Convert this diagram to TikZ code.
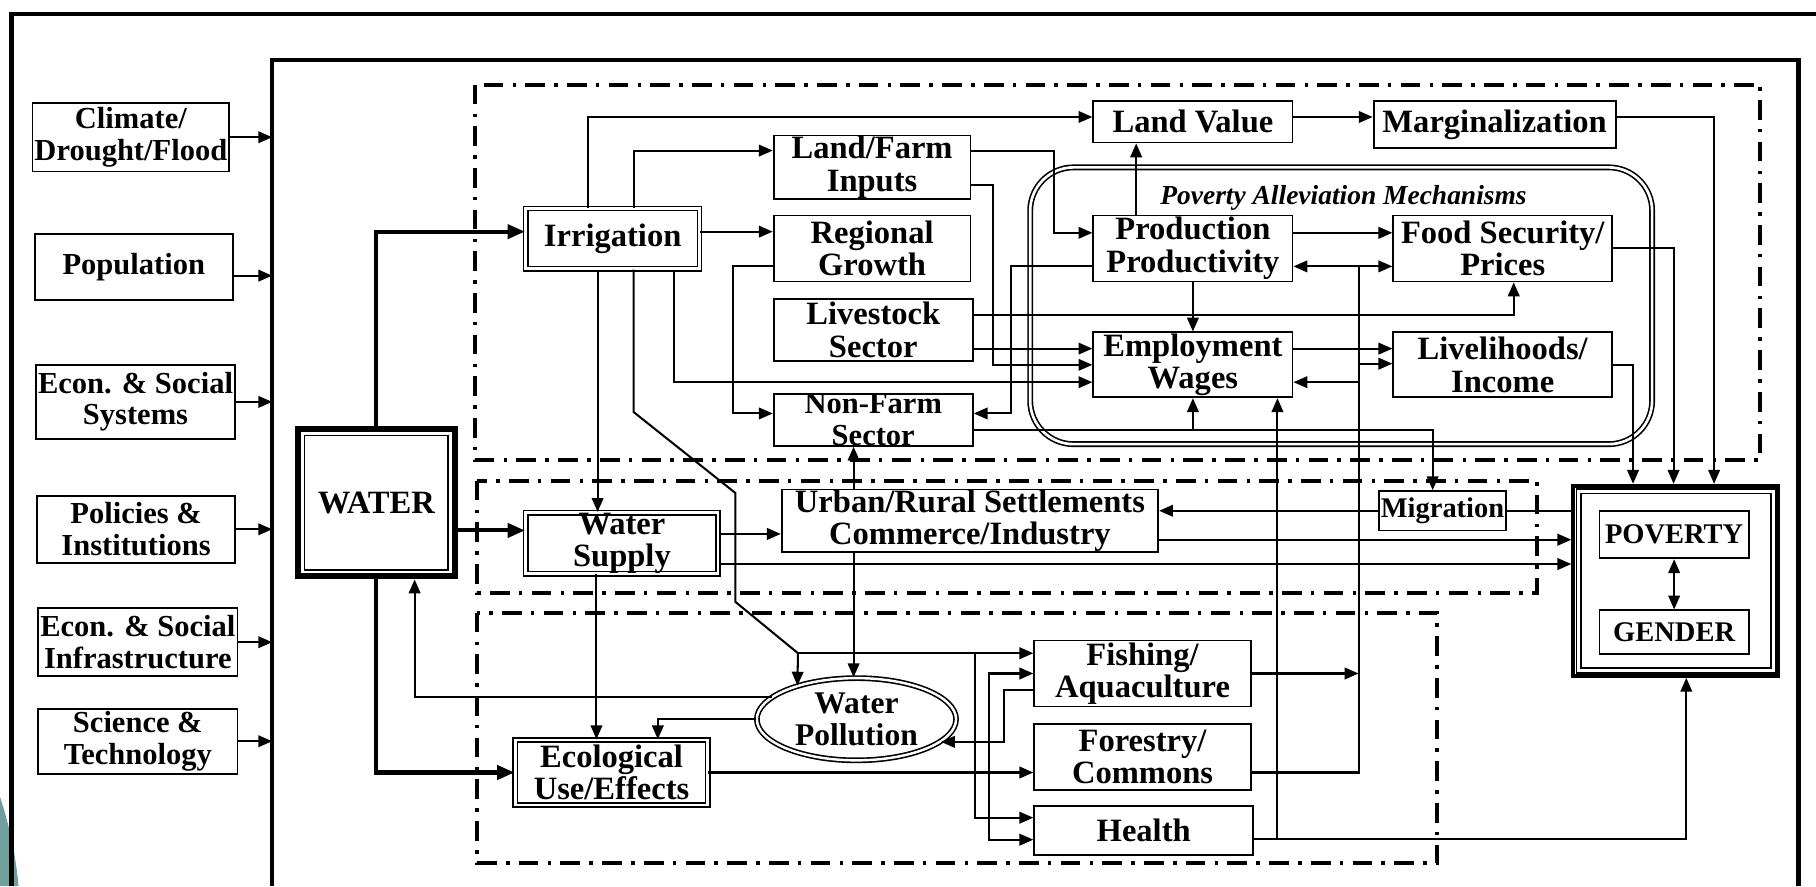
\documentclass[tikz,border=0pt]{standalone}
\usepackage{fontspec}
\setmainfont{Liberation Serif}
\usetikzlibrary{arrows.meta,calc,shapes.geometric}
\definecolor{slideteal}{RGB}{112,160,158}
\tikzset{
  sz/.style 2 args={minimum width=#1*0.02cm, minimum height=#2*0.02cm},
  bx/.style={draw, line width=0.9pt, inner sep=0pt, align=center,
    font=\bfseries\fontsize{16}{16}\selectfont},
  fac/.style={bx, font=\bfseries\fontsize{15}{15.5}\selectfont},
  dbx/.style={bx, double, double distance=1.3pt, line width=0.8pt},
  trip/.style={bx, line width=2pt},
  lk/.style={line width=1pt, -{Triangle[length=0.24cm,width=0.2cm]}},
  ln/.style={line width=1pt},
  mn/.style={line width=2pt, -{Triangle[length=0.3cm,width=0.24cm]}},
  bi/.style={line width=1pt, {Triangle[length=0.24cm,width=0.2cm]}-{Triangle[length=0.24cm,width=0.2cm]}},
  dd/.style={line width=2pt, dash pattern=on 0.34cm off 0.16cm on 0.06cm off 0.16cm},
  frame/.style={line width=2.2pt}
}
% inner double line of the triple framed boxes
\newcommand{\innerframe}[1]{
  \draw[double, double distance=1.4pt, line width=0.8pt]
    ([shift={(3.6pt,-3.6pt)}]#1.north west) rectangle ([shift={(-3.6pt,3.6pt)}]#1.south east);
}
\begin{document}
\begin{tikzpicture}[x=0.02cm, y=-0.02cm]
  \useasboundingbox (0,0) rectangle (1568,765);
  \fill[slideteal] (0,688) .. controls (9,715) and (14,742) .. (16,765) -- (0,765) -- cycle;
  % frames and regions
  \draw[frame] (10,765) -- (10,12) -- (1568,12);
  \draw[frame] (235,765) -- (235,52) -- (1553,52) -- (1553,765);
  \coordinate (fr) at (235,52);
  \draw[dd] (410,73) rectangle (1520,397);
  \draw[dd] (412,415) rectangle (1327,512);
  \draw[dd] (412,529) rectangle (1241,745);

  % outside factors
  \node[fac, sz={170}{59}] (clim) at (113,118.5) {Climate/\\Drought/Flood};
  \node[fac, sz={171}{57}] (pop) at (115.5,230.5) {Population};
  \node[fac, sz={172}{64}] (ess) at (117,347) {Econ. \& Social\\Systems};
  \node[fac, sz={171}{58}] (pol) at (117.5,457) {Policies \&\\Institutions};
  \node[fac, sz={172}{59}] (esi) at (119,554.5) {Econ. \& Social\\Infrastructure};
  \node[fac, sz={172}{56}] (sci) at (119,640) {Science \&\\Technology};
  \foreach \n/\s in {clim/0,pop/-0.15,ess/0,pol/0,esi/0,sci/0}
    \draw[lk] ([yshift=\s cm]\n.east) -- ([yshift=\s cm]\n.east -| fr);

  % water and its uses
  \node[trip, sz={137}{129}] (water) at (325,434) {WATER};
  \innerframe{water}
  \node[dbx, sz={150}{52}] (irr) at (529,206) {Irrigation};
  \node[dbx, sz={166}{52}] (ws) at (537,469) {Water\\Supply};
  \node[dbx, sz={166}{56}] (eco) at (528,667) {Ecological\\Use/Effects};

  \node[bx, sz={170}{55}] (lfi) at (753,144.5) {Land/Farm\\Inputs};
  \node[bx, sz={170}{57}] (rg) at (753,214.5) {Regional\\Growth};
  \node[bx, sz={172}{54}] (ls) at (754,285) {Livestock\\Sector};
  \node[bx, sz={172}{39}, font=\bfseries\fontsize{15}{15.5}\selectfont] (nf) at (754,362.5) {Non-Farm\\Sector};
  \node[bx, sz={172}{36}] (lv) at (1030,105) {Land Value};
  \node[bx, sz={209}{41}] (marg) at (1290.5,107.5) {Marginalization};

  % poverty alleviation mechanisms
  \node[draw, double, double distance=1.3pt, line width=0.8pt, rounded corners=0.75cm, sz={537}{239}] (pam) at (1158,264) {};
  \node[font=\bfseries\itshape\fontsize{13.5}{14}\selectfont] (pamt) at (1160,171) {Poverty Alleviation Mechanisms};
  \node[bx, sz={172}{57}] (prod) at (1030,214.5) {Production\\Productivity};
  \node[bx, sz={189}{57}] (food) at (1297.5,214.5) {Food Security/\\Prices};
  \node[bx, sz={172}{56}] (emp) at (1030,315) {Employment\\Wages};
  \node[bx, sz={189}{56}] (live) at (1297.5,315) {Livelihoods/\\Income};

  \node[bx, sz={325}{51}] (urb) at (837.5,449.5) {Urban/Rural Settlements\\Commerce/Industry};
  \node[bx, sz={109}{34}, font=\bfseries\fontsize{14}{14}\selectfont] (mig) at (1245.5,441) {Migration};

  \node[trip, sz={177}{164}] (pg) at (1447,501.5) {};
  \innerframe{pg}
  \node[bx, sz={129}{41}, font=\bfseries\fontsize{14}{14}\selectfont] (pov) at (1445.5,461.5) {POVERTY};
  \node[bx, sz={129}{38}, font=\bfseries\fontsize{14}{14}\selectfont] (gen) at (1445.5,546) {GENDER};

  \node[draw, ellipse, double, double distance=1.2pt, line width=0.8pt, inner sep=0pt, sz={172}{71},
    align=center, font=\bfseries\fontsize{15.5}{15.5}\selectfont] (wp) at (739.5,621) {Water\\Pollution};
  \node[bx, sz={187}{57}] (fish) at (986.5,581.5) {Fishing/\\Aquaculture};
  \node[bx, sz={187}{57}] (frst) at (986.5,653.5) {Forestry/\\Commons};
  \node[bx, sz={189}{42}] (hea) at (987.5,717) {Health};

  % ports
  \coordinate (irrA) at ([yshift=0.12cm]irr.west);
  \coordinate (wsA) at ([yshift=0.22cm]ws.west);
  \coordinate (irrT1) at ([xshift=-0.42cm]irr.north);
  \coordinate (irrT2) at ([xshift=0.36cm]irr.north);
  \coordinate (irrB1) at ([xshift=-0.26cm]irr.south);
  \coordinate (irrB2) at ([xshift=0.36cm]irr.south);
  \coordinate (irrB3) at ([xshift=1.06cm]irr.south);
  \coordinate (lvA) at ([yshift=0.08cm]lv.west);
  \coordinate (lfiA) at ([yshift=0.29cm]lfi.west);
  \coordinate (lfiB) at ([yshift=-0.31cm]lfi.east);
  \coordinate (rgA) at ([yshift=-0.31cm]rg.west);
  \coordinate (lsA) at ([yshift=0.26cm]ls.east);
  \coordinate (lsB) at ([yshift=-0.32cm]ls.east);
  \coordinate (nfA) at ([yshift=0.11cm]nf.east);
  \coordinate (nfB) at ([yshift=-0.17cm]nf.east);
  \coordinate (prodA) at ([yshift=0.27cm]prod.west);
  \coordinate (prodB) at ([yshift=-0.31cm]prod.west);
  \coordinate (prodT) at ([xshift=-0.98cm]prod.north);
  \coordinate (foodB) at ([xshift=0.19cm]food.south);
  \coordinate (empA) at ([yshift=0.28cm]emp.east);
  \coordinate (empB) at ([yshift=-0.3cm]emp.east);
  \coordinate (empC) at ([yshift=-0.3cm]emp.west);
  \coordinate (empD) at ([xshift=1.46cm]emp.south);
  \coordinate (liveA) at ([yshift=0.02cm]live.west);
  \coordinate (margA) at ([yshift=0.13cm]marg.east);
  \coordinate (migT) at ([xshift=-0.17cm]mig.north);
  \coordinate (pgT1) at ([xshift=0.66cm]pg.north);
  \coordinate (pgT2) at ([xshift=-0.04cm]pg.north);
  \coordinate (pgT3) at ([xshift=-0.74cm]pg.north);
  \coordinate (pgB) at ([xshift=0.18cm]pg.south);
  \coordinate (wsB) at ([yshift=0.16cm]ws.east);
  \coordinate (wsC) at ([yshift=-0.36cm]ws.east);
  \coordinate (wsD) at ([xshift=-0.44cm]ws.south);
  \coordinate (urbA) at ([yshift=-0.33cm]urb.east);
  \coordinate (urbT) at ([xshift=-2.01cm]urb.north);
  \coordinate (urbB) at ([xshift=-2.01cm]urb.south);
  \coordinate (waterB) at ([xshift=0.66cm]water.south);
  \coordinate (ecoB) at ([xshift=0.8cm]eco.north);
  \coordinate (fishB) at ([yshift=-0.29cm]fish.west);
  \coordinate (frstA) at ([yshift=-0.27cm]frst.east);
  \coordinate (heaA) at ([yshift=0.22cm]hea.west);
  \coordinate (heaB) at ([yshift=-0.16cm]hea.west);
  \coordinate (heaC) at ([yshift=-0.14cm]hea.east);
  \coordinate (jn) at (689,564);
  \coordinate (jf) at (842,564);
  \coordinate (je) at (854,667);
  \coordinate (bus) at (1173,230);

  % water
  \draw[mn] (water.north) |- (irrA);
  \draw[mn] (wsA -| water.east) -- (wsA);
  \draw[mn] (water.south) |- (eco.west);

  % irrigation
  \draw[lk] (irrT1) |- (lvA);
  \draw[lk] (irrT2) |- (lfiA);
  \draw[lk] (irrA -| irr.east) -- (irrA -| rg.west);
  \draw[lk] (irrB1) -- (irrB1 |- ws.north);
  \draw[lk] (irrB3) |- (empC);
  \draw[ln] (irrB2) -- ++(0,123) -- ++(88,70) -- ++(0,94) -- (jn);
  \draw[lk] (jn) -- (jn -| fish.west);
  \draw[lk] (jn) -- ($(wp.center)+(-51,-29)$);
  \draw[lk] (jf) |- (heaA);

  \draw[lk] (lfiA -| lfi.east) -- ++(71,0) |- (prodA);
  \draw[lk] (lfiB) -- ++(19,0) |- (emp.west);
  \draw[lk] (rgA) -- ++(-34,0) |- (nfA -| nf.west);
  \draw[lk] (lsA) -| (foodB);
  \draw[lk] (lsB) -- (lsB -| emp.west);
  \draw[lk] (nfB) -| (migT);
  \draw[lk] (nfB -| emp.south) -- (emp.south);

  % mechanisms
  \draw[lk] (prodT) -- (prodT |- lv.south);
  \draw[lk] (lvA -| lv.east) -- (lvA -| marg.west);
  \draw[lk] (margA) -| (pgT1);
  \draw[lk] (food.east) -| (pgT2);
  \draw[lk] (live.east) -| (pgT3);
  \draw[lk] (prodA -| prod.east) -- (prodA -| food.west);
  \draw[lk] (prod.south) -- (emp.north);
  \draw[lk] (prodB) -- ++(-70,0) |- (nfA);
  \draw[lk] (empA) -- (empA -| live.west);

  % settlements
  \draw[lk] (wsB) -- (wsB -| urb.west);
  \draw[lk] (wsC) -- (wsC -| pg.west);
  \draw[lk] (urbA) -- (urbA -| pg.west);
  \draw[lk] (mig.west) -- (mig.west -| urb.east);
  \draw[ln] (mig.east) -- (mig.east -| pg.west);
  \draw[lk] (urbT) -- (urbT |- nf.south);
  \draw[lk] (urbB) -- (urbB |- wp.north);
  \draw[lk] (wsD) -- (wsD |- eco.north);
  \draw[bi] (pov.south) -- (gen.north);

  % ecology
  \draw[lk] (wp.165) -| (waterB);
  \draw[lk] (wp.west) -| (ecoB);
  \draw[lk] (eco.east) -- (eco.east -| frst.west);
  \draw[lk] (je) |- (fish.west);
  \draw[lk] (je) |- (heaB);
  \draw[lk] (fishB) -- ++(-25,0) |- (wp.-15);
  \draw[lk] (fish.east) -- (fish.east -| bus);
  \draw[ln] (frstA) -| (bus);
  \draw[lk] (bus) -- (bus -| prod.east);
  \draw[lk] (bus) -- (bus -| food.west);
  \draw[lk] (empB -| bus) -- (empB);
  \draw[lk] (liveA -| bus) -- (liveA);
  \draw[lk] (heaC) -| (pgB);
  \draw[lk] (empD |- heaC) -- (empD);
\end{tikzpicture}
\end{document}
